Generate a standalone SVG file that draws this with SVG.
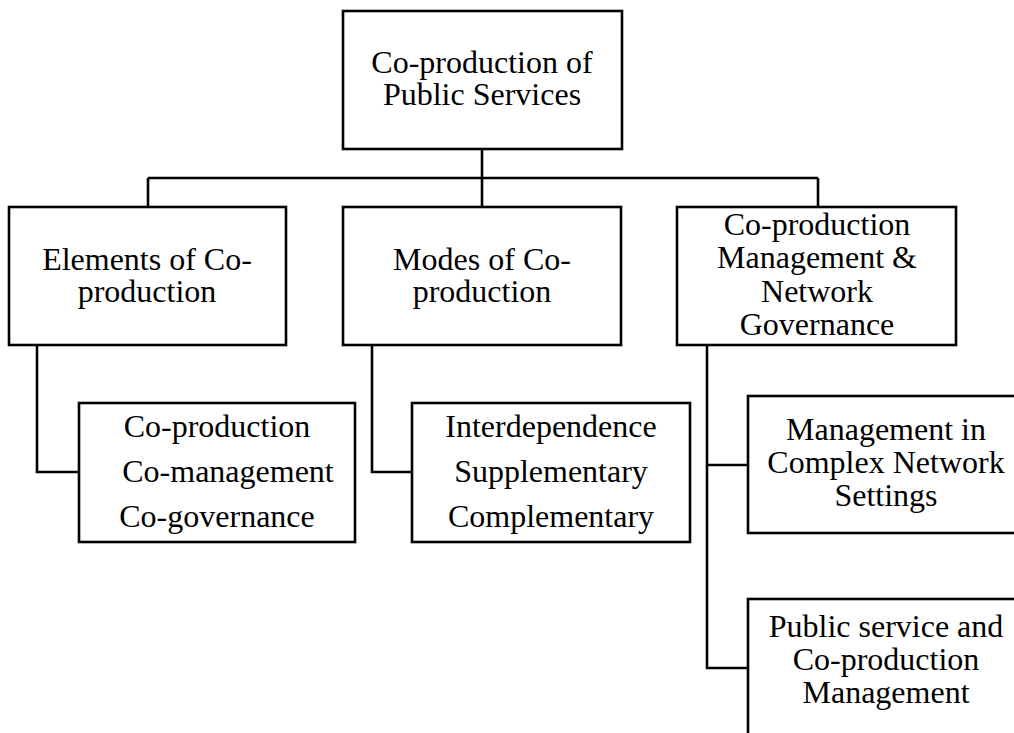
<svg xmlns="http://www.w3.org/2000/svg" width="1014" height="733" viewBox="0 0 1014 733">
  <style>
    .box { fill: #ffffff; stroke: #000000; stroke-width: 2.6; }
    .wire { fill: none; stroke: #000000; stroke-width: 2.6; }
    .label { font-family: "Liberation Serif", "Times New Roman", serif; font-size: 32px; fill: #000000; text-anchor: middle; }
  </style>
  <rect x="0" y="0" width="1014" height="733" fill="#ffffff"/>

  <!-- connectors -->
  <g id="connectors">
    <path class="wire" d="M482 149 V178 M148 178 H818 M148 178 V207 M482 178 V207 M818 178 V207"/>
    <path class="wire" d="M37 345 V472 H79"/>
    <path class="wire" d="M372 345 V472 H412"/>
    <path class="wire" d="M707 345 V668 H748 M707 465 H748"/>
  </g>

  <g id="root">
    <rect class="box" x="343" y="11" width="279" height="138"/>
    <text class="label" x="482" y="73">Co-production of</text>
    <text class="label" x="482" y="105">Public Services</text>
  </g>

  <g id="elements">
    <rect class="box" x="9" y="207" width="277" height="138"/>
    <text class="label" x="147" y="270">Elements of Co-</text>
    <text class="label" x="147" y="302">production</text>
  </g>

  <g id="modes">
    <rect class="box" x="343" y="207" width="278" height="138"/>
    <text class="label" x="482" y="270">Modes of Co-</text>
    <text class="label" x="482" y="302">production</text>
  </g>

  <g id="management">
    <rect class="box" x="677" y="207" width="279" height="138"/>
    <text class="label" x="817" y="235">Co-production</text>
    <text class="label" x="817" y="268">Management &amp;</text>
    <text class="label" x="817" y="302">Network</text>
    <text class="label" x="817" y="335">Governance</text>
  </g>

  <g id="elements-list">
    <rect class="box" x="79" y="403" width="276" height="139"/>
    <text class="label" x="217" y="437">Co-production</text>
    <text class="label" x="228" y="482">Co-management</text>
    <text class="label" x="217" y="527">Co-governance</text>
  </g>

  <g id="modes-list">
    <rect class="box" x="412" y="403" width="278" height="139"/>
    <text class="label" x="551" y="437">Interdependence</text>
    <text class="label" x="551" y="482">Supplementary</text>
    <text class="label" x="551" y="527">Complementary</text>
  </g>

  <g id="complex-network">
    <rect class="box" x="748" y="396" width="276" height="137"/>
    <text class="label" x="886" y="440">Management in</text>
    <text class="label" x="886" y="473">Complex Network</text>
    <text class="label" x="886" y="506">Settings</text>
  </g>

  <g id="public-service">
    <rect class="box" x="748" y="599" width="276" height="150"/>
    <text class="label" x="886" y="637">Public service and</text>
    <text class="label" x="886" y="670">Co-production</text>
    <text class="label" x="886" y="703">Management</text>
  </g>
</svg>
